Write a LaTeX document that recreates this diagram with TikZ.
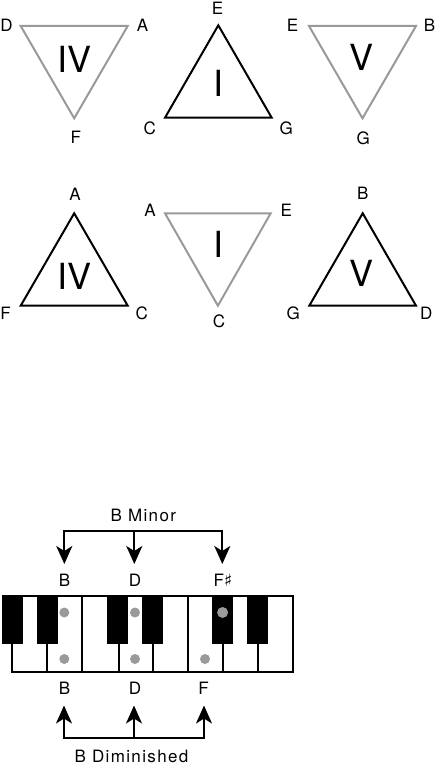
\documentclass[tikz,border=0pt]{standalone}
\usepackage{fontspec}
\setmainfont{TeX Gyre Heros}
\newfontfamily\symfont{DejaVu Sans}
\newfontfamily\captfont[LetterSpace=8]{TeX Gyre Heros}
\usetikzlibrary{arrows.meta}
\definecolor{lgray}{HTML}{999999}
\definecolor{dotgray}{HTML}{9A9A9A}
\tikzset{
  blk/.style={draw=black, line width=2pt},
  gry/.style={draw=lgray, line width=2pt},
  lab/.style={inner sep=0pt, text height=12.2pt, text depth=0pt, font=\fontsize{17}{17}\selectfont},
  num/.style={inner sep=0pt, text height=25.8pt, text depth=0pt, font=\fontsize{36}{36}\selectfont},
  captlab/.style={inner sep=0pt, text height=12.2pt, text depth=0pt, font=\captfont\fontsize{17}{17}\selectfont},
  conn/.style={line width=2pt, -{Stealth[length=18pt,width=16pt,inset=5pt]}},
  bar/.style={line width=2pt, line cap=rect},
  keyline/.style={line width=2pt},
  keydot/.style={circle, fill=dotgray, inner sep=0pt, minimum size=10pt},
}
\begin{document}
\begin{tikzpicture}[x=1pt,y=-1pt]
\useasboundingbox (0,0) rectangle (436,765);

% ---------- top row ----------
% IV (gray, down)
\coordinate (a1) at (20.7,26);
\coordinate (a2) at (127.7,26);
\coordinate (a3) at (74.2,118.3);
\draw[gry] (a1) -- (a2) -- (a3) -- cycle;
\node[lab] (aD) at (6.5,25) {D};
\node[lab] (aA) at (142.5,25) {A};
\node[lab] (aF) at (75.7,137.7) {F};
\node[num] (aN) at (74.3,59.2) {IV};

% I (black, up)
\coordinate (b1) at (218.3,25.3);
\coordinate (b2) at (165,117.7);
\coordinate (b3) at (271.7,117.7);
\draw[blk] (b1) -- (b2) -- (b3) -- cycle;
\node[lab] (bE) at (217.5,8) {E};
\node[lab] (bC) at (149.7,128.8) {C};
\node[lab] (bG) at (286.3,128.8) {G};
\node[num] (bN) at (218.3,83.2) {I};

% V (gray, down)
\coordinate (c1) at (309,26);
\coordinate (c2) at (416,26);
\coordinate (c3) at (362.5,118.3);
\draw[gry] (c1) -- (c2) -- (c3) -- cycle;
\node[lab] (cE) at (292.5,25) {E};
\node[lab] (cB) at (429.5,25) {B};
\node[lab] (cG) at (363.3,138) {G};
\node[num] (cN) at (361.7,57.8) {V};

% ---------- second row ----------
% IV (black, up)
\coordinate (d1) at (74.2,213.3);
\coordinate (d2) at (20.7,305.7);
\coordinate (d3) at (127.7,305.7);
\draw[blk] (d1) -- (d2) -- (d3) -- cycle;
\node[lab] (dA) at (75,194.5) {A};
\node[lab] (dF) at (5.5,313.8) {F};
\node[lab] (dC) at (141.7,313.8) {C};
\node[num] (dN) at (74.3,276.3) {IV};

% I (gray, down)
\coordinate (e1) at (165,213.3);
\coordinate (e2) at (270.7,213.3);
\coordinate (e3) at (217.9,305.7);
\draw[gry] (e1) -- (e2) -- (e3) -- cycle;
\node[lab] (eA) at (150,210.8) {A};
\node[lab] (eE) at (286.3,210.8) {E};
\node[lab] (eC) at (219,321.7) {C};
\node[num] (eN) at (218.3,245) {I};

% V (black, up)
\coordinate (f1) at (362.7,213.3);
\coordinate (f2) at (309.3,305.7);
\coordinate (f3) at (416,305.7);
\draw[blk] (f1) -- (f2) -- (f3) -- cycle;
\node[lab] (fB) at (362.7,193) {B};
\node[lab] (fG) at (293.3,313.8) {G};
\node[lab] (fD) at (426.3,313.8) {D};
\node[num] (fN) at (361.7,274) {V};

% ---------- keyboard ----------
\draw[keyline] (12,644) -- (12,672) -- (293.3,672) -- (293.3,596) -- (2,596);
\foreach \kx in {46.7,82.3,119,153.3,188.3,223.3,258.3}
  \draw[keyline] (\kx,596) -- (\kx,672);
\foreach \bx in {1.7,36.7,106.7,141.7,211.7,246.7}
  \fill[black] (\bx,595) rectangle ++(21.6,49);

\node[keydot] (dB1) at (64.3,612.5) {};
\node[keydot] (dB2) at (64.3,659) {};
\node[keydot] (dD1) at (135,612.5) {};
\node[keydot] (dD2) at (135,659) {};
\node[keydot, minimum size=11pt] (dF1) at (222.6,612.5) {};
\node[keydot] (dF2) at (205,659) {};

% note labels
\node[lab] (kB1) at (64.5,580) {B};
\node[lab] (kD1) at (135,580) {D};
\node[lab] (kF1) at (223,580) {F{\symfont\fontsize{17}{17}\selectfont ♯}};
\node[lab] (kB2) at (64.5,688.5) {B};
\node[lab] (kD2) at (135,688.5) {D};
\node[lab] (kF2) at (203.5,688.5) {F};

% B Minor arrows
\node[captlab] (minor) at (143.3,515) {B Minor};
\coordinate (mB) at (64.3,531);
\coordinate (mD) at (134.3,531);
\coordinate (mF) at (222.3,531);
\coordinate (tB) at (64.3,564);
\coordinate (tD) at (134.3,564);
\coordinate (tF) at (222.3,564);
\draw[bar] (mB) -- (mF);
\draw[conn] (mB) -- (tB);
\draw[conn] (mD) -- (tD);
\draw[conn] (mF) -- (tF);

% B Diminished arrows
\node[captlab] (dimin) at (131.5,756) {B Diminished};
\coordinate (nB) at (64,738);
\coordinate (nD) at (134,738);
\coordinate (nF) at (204,738);
\coordinate (uB) at (64,705.5);
\coordinate (uD) at (134,705.5);
\coordinate (uF) at (204,705.5);
\draw[bar] (nB) -- (nF);
\draw[conn] (nB) -- (uB);
\draw[conn] (nD) -- (uD);
\draw[conn] (nF) -- (uF);
\end{tikzpicture}
\end{document}
